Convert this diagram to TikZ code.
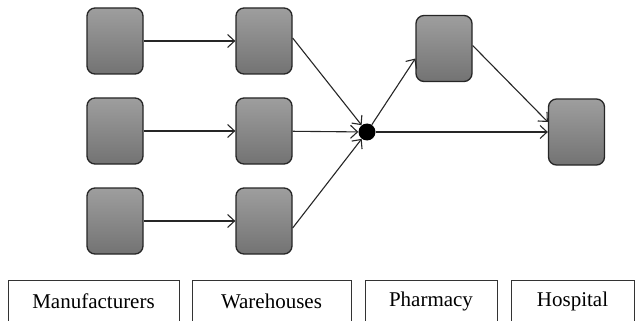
\documentclass[tikz,border=0pt]{standalone}
\usepackage{fontspec}
\setmainfont{Liberation Serif}
\usetikzlibrary{arrows.meta,calc}
\begin{document}
\begin{tikzpicture}[x=1pt,y=-1pt,
  gbox/.style={draw=black!85,line width=1.3pt,rounded corners=8pt,
    top color=black!38,bottom color=black!55,minimum width=56pt,minimum height=66pt,inner sep=0pt},
  flow/.style={draw=black!85,line width=1.1pt,-{Straight Barb[length=7pt,width=13pt,line width=1.1pt]}},
  label/.style={draw=black!80,line width=0.9pt,minimum height=42pt,inner sep=0pt,
    font=\fontsize{21}{25}\selectfont}]
\useasboundingbox (0,0) rectangle (638,321);
% manufacturers
\node[gbox] (m1) at (115,41) {};
\node[gbox] (m2) at (115,131) {};
\node[gbox] (m3) at (115,221) {};
% warehouses
\node[gbox] (w1) at (264,41) {};
\node[gbox] (w2) at (264,131) {};
\node[gbox] (w3) at (264,221) {};
% pharmacy, hospital
\node[gbox] (ph) at (444,48.5) {};
\node[gbox] (ho) at (576.5,132) {};
% junction
\node[circle,fill=black,minimum size=17pt,inner sep=0pt] (dot) at (367,132) {};
% connectors
\draw[flow] (m1) -- (w1);
\draw[flow] (m2) -- (w2);
\draw[flow] (m3) -- (w3);
\draw[flow] ($(w1.east)+(0,-3)$) -- (dot);
\draw[flow] (w2) -- (dot);
\draw[flow] ($(w3.east)+(0,7)$) -- (dot);
\draw[flow] (dot) -- ($(ph.west)+(0,10)$);
\draw[flow] (dot) -- (ho.west);
\draw[flow] ($(ph.east)+(0,-3)$) -- ($(ho.west)+(0,-10)$);
% labels
\node[label,minimum width=171pt] (lm) at (93.5,301) {Manufacturers};
\node[label,minimum width=159pt] (lw) at (271.5,301) {Warehouses};
\node[label,minimum width=132pt] (lp) at (431,301) {Pharmacy};
\node[label,minimum width=123pt] (lh) at (572.5,301) {Hospital};
\end{tikzpicture}
\end{document}
